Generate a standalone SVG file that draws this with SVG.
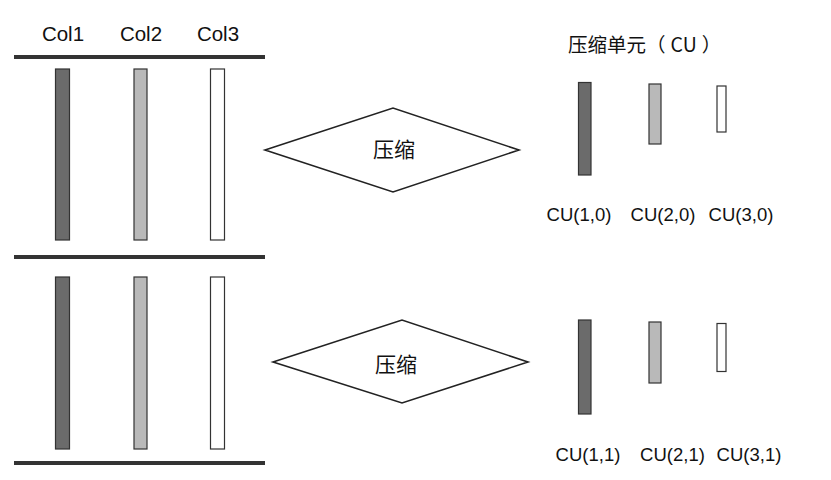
<svg xmlns="http://www.w3.org/2000/svg" width="831" height="480" viewBox="0 0 831 480">
<style>
.lbl{font-family:"Liberation Sans","Noto Sans CJK SC",sans-serif;fill:#111;text-anchor:middle}
.cjk{font-family:"Noto Sans CJK SC","Liberation Sans",sans-serif;fill:#111}
.dark{fill:#6b6b6b;stroke:#333;stroke-width:1.2}
.mid{fill:#b9b9b9;stroke:#333;stroke-width:1.2}
.light{fill:#fff;stroke:#333;stroke-width:1.2}
.sep{stroke:#333;stroke-width:4}
.dia{fill:#fff;stroke:#222;stroke-width:1.6}
</style>
<rect width="831" height="480" fill="#fff"/>
<g id="headers">
<text class="lbl" x="63" y="41" font-size="20.5">Col1</text>
<text class="lbl" x="141" y="41" font-size="20.5">Col2</text>
<text class="lbl" x="218" y="41" font-size="20.5">Col3</text>
</g>
<g id="separators">
<line class="sep" x1="14" y1="57" x2="265" y2="57"/>
<line class="sep" x1="14" y1="257" x2="265" y2="257"/>
<line class="sep" x1="14" y1="463" x2="265" y2="463"/>
</g>
<g id="columns-0">
<rect class="dark" x="55.5" y="69" width="14" height="171"/>
<rect class="mid" x="134" y="69" width="13" height="171"/>
<rect class="light" x="210.5" y="69" width="14" height="171"/>
</g>
<g id="columns-1">
<rect class="dark" x="55.5" y="277" width="14" height="172"/>
<rect class="mid" x="134" y="277" width="13" height="172"/>
<rect class="light" x="210.5" y="277" width="14" height="172"/>
</g>
<g id="compress-0">
<polygon class="dia" points="265,150 393,108 519,150 393,192"/>
<text class="cjk" x="394" y="157" font-size="21" text-anchor="middle">压缩</text>
</g>
<g id="compress-1">
<polygon class="dia" points="273,362 402,320 528,362 402,403"/>
<text class="cjk" x="396" y="372" font-size="21" text-anchor="middle">压缩</text>
</g>
<g id="cu-title">
<text class="cjk" x="568" y="52" font-size="19.5">压缩单元（<tspan dx="5">CU</tspan><tspan dx="5">）</tspan></text>
</g>
<g id="cu-row-0">
<rect class="dark" x="578.5" y="82.5" width="12.5" height="92.5"/>
<rect class="mid" x="649" y="84" width="12" height="60"/>
<rect class="light" x="717" y="86" width="9" height="46"/>
<text class="lbl" x="579" y="221" font-size="18.5">CU(1,0)</text>
<text class="lbl" x="663" y="221" font-size="18.5">CU(2,0)</text>
<text class="lbl" x="741" y="221" font-size="18.5">CU(3,0)</text>
</g>
<g id="cu-row-1">
<rect class="dark" x="578.5" y="320" width="12.5" height="94"/>
<rect class="mid" x="649" y="322" width="12" height="61"/>
<rect class="light" x="717" y="323.5" width="9" height="48"/>
<text class="lbl" x="588" y="461" font-size="18.5">CU(1,1)</text>
<text class="lbl" x="672.5" y="461" font-size="18.5">CU(2,1)</text>
<text class="lbl" x="749" y="461" font-size="18.5">CU(3,1)</text>
</g>
</svg>
